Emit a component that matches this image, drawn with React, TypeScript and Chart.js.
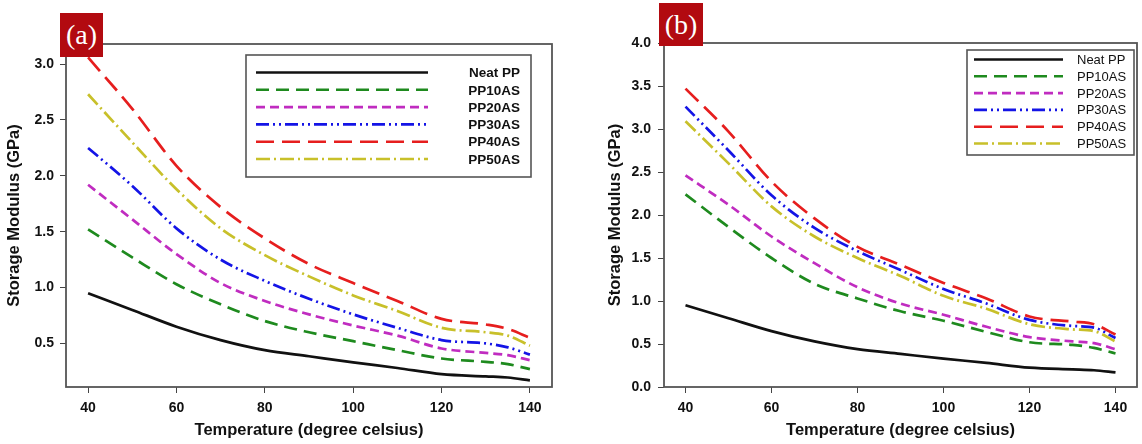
import React, { useEffect, useRef } from "react";
import { Chart, registerables } from "chart.js";
Chart.register(...registerables);

// ---------- data ----------
const temps = [40, 50, 60, 70, 80, 90, 100, 110, 120, 130, 135, 140];
const seriesNames = ["Neat PP", "PP10AS", "PP20AS", "PP30AS", "PP40AS", "PP50AS"];

const aNeatPP = [0.95, 0.8, 0.65, 0.53, 0.44, 0.385, 0.33, 0.28, 0.225, 0.205, 0.195, 0.17];
const aPP10AS = [1.52, 1.27, 1.03, 0.85, 0.7, 0.6, 0.52, 0.44, 0.365, 0.335, 0.315, 0.27];
const aPP20AS = [1.92, 1.61, 1.3, 1.04, 0.88, 0.76, 0.66, 0.57, 0.455, 0.415, 0.395, 0.35];
const aPP30AS = [2.25, 1.91, 1.53, 1.25, 1.06, 0.9, 0.76, 0.64, 0.53, 0.5, 0.465, 0.4];
const aPP40AS = [3.06, 2.6, 2.09, 1.72, 1.44, 1.21, 1.04, 0.88, 0.72, 0.67, 0.63, 0.55];
const aPP50AS = [2.73, 2.3, 1.88, 1.53, 1.29, 1.1, 0.93, 0.79, 0.64, 0.6, 0.57, 0.48];

const bNeatPP = [0.95, 0.8, 0.65, 0.53, 0.44, 0.385, 0.33, 0.28, 0.225, 0.205, 0.195, 0.17];
const bPP10AS = [2.24, 1.86, 1.5, 1.2, 1.03, 0.88, 0.77, 0.64, 0.52, 0.49, 0.455, 0.39];
const bPP20AS = [2.46, 2.12, 1.75, 1.44, 1.16, 0.97, 0.84, 0.7, 0.58, 0.53, 0.51, 0.44];
const bPP30AS = [3.26, 2.75, 2.23, 1.85, 1.58, 1.36, 1.14, 0.97, 0.78, 0.71, 0.69, 0.57];
const bPP40AS = [3.47, 2.97, 2.39, 1.96, 1.63, 1.42, 1.21, 1.03, 0.82, 0.76, 0.73, 0.61];
const bPP50AS = [3.09, 2.6, 2.1, 1.75, 1.5, 1.29, 1.06, 0.91, 0.73, 0.67, 0.65, 0.53];

const xTickValues = [40, 60, 80, 100, 120, 140];
const yTickValuesA = [0.5, 1.0, 1.5, 2.0, 2.5, 3.0];
const yTickValuesB = [0, 0.5, 1.0, 1.5, 2.0, 2.5, 3.0, 3.5, 4.0];

// ---------- styles ----------
const colors = ["#111111", "#1e8a1e", "#c02cc0", "#1414e6", "#e61e1e", "#c8c02a"];
const dashes: number[][] = [
  [],
  [13, 7],
  [9, 5],
  [13, 4, 2, 4, 2, 4],
  [18, 8],
  [14, 4, 2, 4],
];
const FONT = "Arial, 'Liberation Sans', sans-serif";

type LegendCfg = {
  box: [number, number, number, number];
  row0: number;
  rowStep: number;
  lineX0: number;
  lineX1: number;
  textX: number;
  align: CanvasTextAlign;
  font: string;
};

function makeChart(
  canvas: HTMLCanvasElement,
  seriesData: number[][],
  yMin: number,
  yMax: number,
  yTicks: number[],
  layout: { right: number; top: number; yWidth: number; xHeight: number },
  yTitlePad: number,
  yTickPad: number,
  tickLen: number,
  legend: LegendCfg
) {
  const framePlugin = {
    id: "frame",
    afterDraw(chart: any) {
      const { ctx, chartArea } = chart;
      ctx.save();
      ctx.strokeStyle = "#555555";
      ctx.lineWidth = 1.8;
      ctx.strokeRect(chartArea.left, chartArea.top, chartArea.right - chartArea.left, chartArea.bottom - chartArea.top);
      ctx.restore();
    },
  };
  const legendPlugin = {
    id: "customLegend",
    afterDraw(chart: any) {
      const { ctx } = chart;
      const [x0, y0, x1, y1] = legend.box;
      ctx.save();
      ctx.fillStyle = "#ffffff";
      ctx.fillRect(x0, y0, x1 - x0, y1 - y0);
      ctx.strokeStyle = "#555555";
      ctx.lineWidth = 1.6;
      ctx.strokeRect(x0, y0, x1 - x0, y1 - y0);
      chart.data.datasets.forEach((ds: any, i: number) => {
        const y = legend.row0 + i * legend.rowStep;
        ctx.strokeStyle = ds.borderColor;
        ctx.lineWidth = 2.6;
        ctx.setLineDash(ds.borderDash || []);
        ctx.beginPath();
        ctx.moveTo(legend.lineX0, y);
        ctx.lineTo(legend.lineX1, y);
        ctx.stroke();
        ctx.setLineDash([]);
        ctx.fillStyle = "#111111";
        ctx.font = legend.font;
        ctx.textAlign = legend.align;
        ctx.textBaseline = "middle";
        ctx.fillText(ds.label, legend.textX, y + 1);
      });
      ctx.restore();
    },
  };

  return new Chart(canvas, {
    type: "line",
    data: {
      datasets: seriesNames.map((name, i) => ({
        label: name,
        data: temps.map((t, j) => ({ x: t, y: seriesData[i][j] })),
        borderColor: colors[i],
        borderDash: dashes[i],
        borderWidth: 2.7,
        pointRadius: 0,
        fill: false,
        cubicInterpolationMode: "monotone" as const,
      })),
    },
    options: {
      animation: false,
      responsive: false,
      layout: { padding: { left: 0, right: layout.right, top: layout.top, bottom: 0 } },
      plugins: { legend: { display: false }, tooltip: { enabled: false } },
      scales: {
        x: {
          type: "linear",
          min: 35,
          max: 145,
          afterBuildTicks: (s: any) => {
            s.ticks = xTickValues.map((v) => ({ value: v }));
          },
          afterFit: (s: any) => {
            s.height = layout.xHeight;
          },
          grid: { display: true, drawOnChartArea: false, drawTicks: true, tickLength: tickLen, color: "#444" },
          border: { display: false },
          ticks: {
            color: "#111",
            padding: 7,
            maxRotation: 0,
            font: { family: FONT, size: 14, weight: "bold" },
          },
          title: {
            display: true,
            text: "Temperature (degree celsius)",
            color: "#111",
            padding: { top: 0, bottom: 4 },
            font: { family: FONT, size: 16.5, weight: "bold" },
          },
        },
        y: {
          type: "linear",
          min: yMin,
          max: yMax,
          afterBuildTicks: (s: any) => {
            s.ticks = yTicks.map((v) => ({ value: v }));
          },
          afterFit: (s: any) => {
            s.width = layout.yWidth;
          },
          grid: { display: true, drawOnChartArea: false, drawTicks: true, tickLength: tickLen, color: "#444" },
          border: { display: false },
          ticks: {
            color: "#111",
            padding: yTickPad,
            callback: (v: any) => Number(v).toFixed(1),
            font: { family: FONT, size: 14, weight: "bold" },
          },
          title: {
            display: true,
            text: "Storage Modulus (GPa)",
            color: "#111",
            padding: { top: yTitlePad, bottom: 0 },
            font: { family: FONT, size: 16.5, weight: "bold" },
          },
        },
      },
    },
    plugins: [framePlugin, legendPlugin],
  } as any);
}

const badge: React.CSSProperties = {
  position: "absolute",
  background: "#b20a10",
  color: "#ffffff",
  fontFamily: "'Liberation Serif', 'DejaVu Serif', serif",
  fontSize: 28,
  display: "flex",
  alignItems: "center",
  justifyContent: "center",
  lineHeight: 1,
};

export default function App() {
  const refA = useRef<HTMLCanvasElement>(null);
  const refB = useRef<HTMLCanvasElement>(null);

  useEffect(() => {
    const chartA = makeChart(
      refA.current!,
      [aNeatPP, aPP10AS, aPP20AS, aPP30AS, aPP40AS, aPP50AS],
      0.11,
      3.18,
      yTickValuesA,
      { right: 18, top: 44, yWidth: 66, xHeight: 57 },
      5,
      6,
      6,
      {
        box: [246, 55, 531, 177],
        row0: 72.5,
        rowStep: 17.3,
        lineX0: 256,
        lineX1: 428,
        textX: 520,
        align: "right",
        font: "bold 13.5px Arial, 'Liberation Sans', sans-serif",
      }
    );
    const chartB = makeChart(
      refB.current!,
      [bNeatPP, bPP10AS, bPP20AS, bPP30AS, bPP40AS, bPP50AS],
      0,
      4,
      yTickValuesB,
      { right: 5, top: 43, yWidth: 94, xHeight: 57 },
      36,
      7,
      6,
      {
        box: [397, 50, 564, 155],
        row0: 59.5,
        rowStep: 16.8,
        lineX0: 404,
        lineX1: 493,
        textX: 507,
        align: "left",
        font: "13px Arial, 'Liberation Sans', sans-serif",
      }
    );
    return () => {
      chartA.destroy();
      chartB.destroy();
    };
  }, []);

  return (
    <div style={{ position: "absolute", left: 0, top: 0, width: 1142, height: 444, background: "#fff", overflow: "hidden" }}>
      <canvas ref={refA} width={570} height={444} style={{ position: "absolute", left: 0, top: 0, width: 570, height: 444 }} />
      <canvas ref={refB} width={572} height={444} style={{ position: "absolute", left: 570, top: 0, width: 572, height: 444 }} />
      <div style={{ ...badge, left: 60, top: 13, width: 43, height: 44 }}>(a)</div>
      <div style={{ ...badge, left: 659, top: 3, width: 44, height: 43 }}>(b)</div>
    </div>
  );
}
